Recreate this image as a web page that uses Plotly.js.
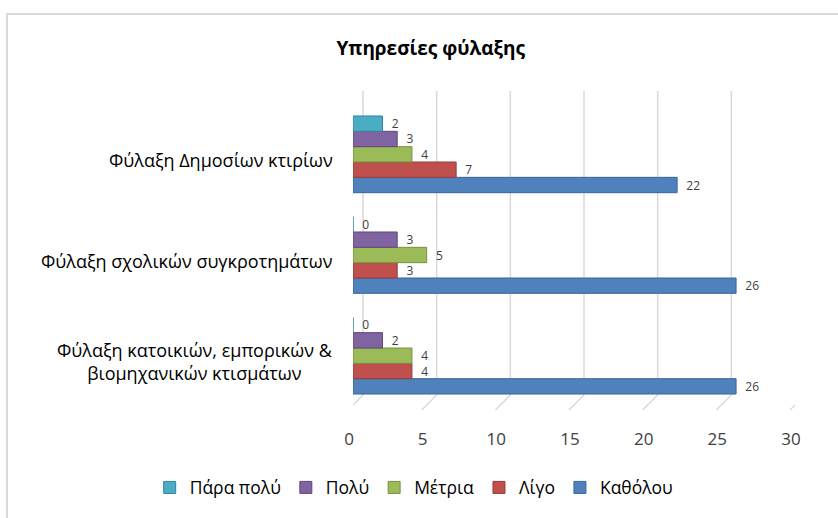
<!DOCTYPE html>
<html>
<head>
<meta charset="utf-8">
<script src="https://cdn.plot.ly/plotly-3.0.1.min.js"></script>
<style>
html,body{margin:0;padding:0;background:#fff;}
#chart{width:838px;height:518px;position:relative;}
#frame{position:absolute;left:6px;top:13px;width:840px;height:520px;border-left:2px solid #d9d9d9;border-top:2px solid #d9d9d9;pointer-events:none;}
</style>
</head>
<body>
<div id="chart"></div>
<div id="frame"></div>
<script>
// categories listed bottom-to-top
const categories = [
  "Φύλαξη κατοικιών, εμπορικών &<br>βιομηχανικών κτισμάτων",
  "Φύλαξη σχολικών συγκροτημάτων",
  "Φύλαξη Δημοσίων κτιρίων"
];
const seriesNames = ["Καθόλου", "Λίγο", "Μέτρια", "Πολύ", "Πάρα πολύ"];
const katholou  = [26, 26, 22];
const ligo      = [4, 3, 7];
const metria    = [4, 5, 4];
const poly      = [2, 3, 3];
const parapoly  = [0, 0, 2];
const xTicks = [0, 5, 10, 15, 20, 25, 30];
const title = "Υπηρεσίες φύλαξης";

const seriesValues = [katholou, ligo, metria, poly, parapoly];
const colors = ["#4F81BD", "#C0504D", "#9BBB59", "#8064A2", "#4BACC6"];
const lines  = ["#3A6596", "#963C3A", "#779143", "#5F497A", "#31859C"];
const FONT = "Open Sans, Noto Sans, sans-serif";

const traces = seriesNames.map((name, i) => ({
  type: "bar",
  orientation: "h",
  name: name,
  y: categories,
  x: seriesValues[i],
  marker: {color: colors[i], line: {color: lines[i], width: 1}},
  texttemplate: "\u00a0\u00a0%{x}",
  textposition: "outside",
  constraintext: "none",
  cliponaxis: false,
  textfont: {family: FONT, size: 12, color: "#404040"},
  hoverinfo: "x+name"
}));

const shapes = [];
xTicks.forEach(t => {
  shapes.push({type: "line", xref: "x", yref: "paper", xsizemode: "pixel", xanchor: t,
    ysizemode: "pixel", yanchor: 0, x0: 10, x1: 10, y0: 11, y1: 315,
    line: {color: "#d9d9d9", width: 1.5}, layer: "below"});
  shapes.push({type: "line", xref: "x", yref: "paper", xsizemode: "pixel", xanchor: t,
    ysizemode: "pixel", yanchor: 0, x0: 10, x1: -5, y0: 11, y1: -4,
    line: {color: "#d9d9d9", width: 1.5}, layer: "below"});
});

const annotations = categories.map(c => ({
  xref: "paper", yref: "y", x: -0.04, y: c, xanchor: "right", yanchor: "middle",
  yshift: -6, align: "center", text: c, showarrow: false,
  font: {family: FONT, size: 18, color: "#000"}
}));

const layout = {
  width: 838, height: 518,
  margin: {l: 353, r: 43, t: 104, b: 109},
  paper_bgcolor: "#fff", plot_bgcolor: "rgba(0,0,0,0)",
  font: {family: FONT, color: "#404040"},
  title: {text: "<b>" + title + "</b>", font: {family: FONT, size: 19, color: "#000"},
    xref: "container", yref: "container", x: 0.514, y: 0.907, xanchor: "center", yanchor: "middle"},
  barmode: "group", bargap: 0.238, bargroupgap: 0,
  xaxis: {range: [0, 30], tickvals: xTicks, ticktext: xTicks.map(String), showgrid: false,
    zeroline: false, showline: false, ticks: "", ticklabelstandoff: 21, ticklabelshift: -4,
    tickfont: {family: FONT, size: 17, color: "#404040"}, fixedrange: true},
  yaxis: {showgrid: false, zeroline: false, showline: false, showticklabels: false,
    ticks: "", range: [-0.5, 2.5], fixedrange: true},
  legend: {orientation: "h", traceorder: "reversed", xref: "paper", yref: "paper",
    x: -0.46, y: -0.27, xanchor: "left", yanchor: "middle", itemwidth: 30,
    font: {family: FONT, size: 17.5, color: "#000"}},
  shapes: shapes,
  annotations: annotations,
  showlegend: true
};

Plotly.newPlot("chart", traces, layout, {displayModeBar: false, staticPlot: true});
</script>
</body>
</html>
